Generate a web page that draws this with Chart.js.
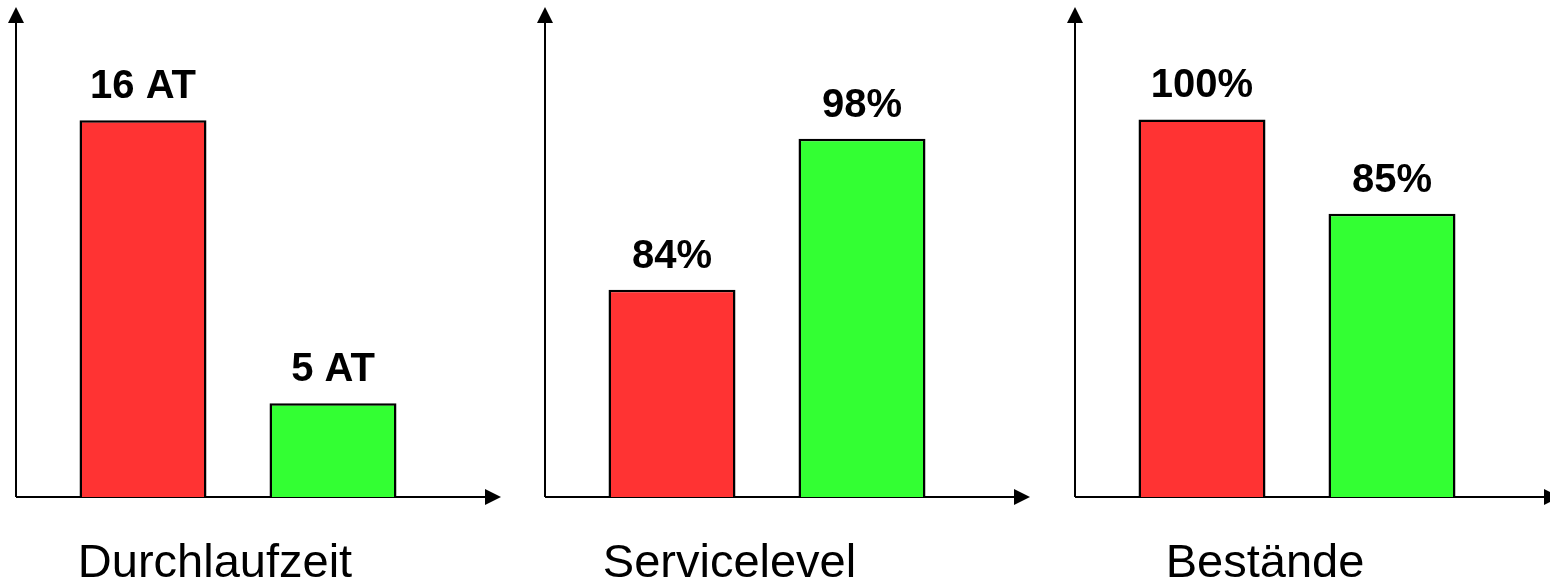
<!DOCTYPE html>
<html>
<head>
<meta charset="utf-8">
<script src="https://cdn.jsdelivr.net/npm/chart.js@4"></script>
<style>
  html, body { margin: 0; padding: 0; background: #fff; overflow: hidden; }
  body { width: 1550px; height: 582px; position: relative; }
  .panel { position: absolute; top: 0; width: 520px; height: 582px; }
</style>
</head>
<body>
<div class="panel" id="p0"><canvas id="c0"></canvas></div>
<div class="panel" id="p1"><canvas id="c1"></canvas></div>
<div class="panel" id="p2"><canvas id="c2"></canvas></div>

<script>
// ---- Daten ----
const titles = ['Durchlaufzeit', 'Servicelevel', 'Bestände'];
const categories = ['Ist', 'Soll'];
const durchlaufzeit = [16, 5];
const servicelevel = [84, 98];
const bestaende = [100, 85];
const units = [' AT', '%', '%'];
// Achsenbereich je Diagramm (Balken sind nicht ab Null skaliert)
const axisMin = [1.35, 64.8, 40];
const axisMax = [19.9, 109, 115.8];

const seriesList = [durchlaufzeit, servicelevel, bestaende];
const barColors = ['#ff3333', '#33ff33'];

// ---- Layout ----
const axisX = [15.5, 545, 1074.5];       // Lage der y-Achse im Bild
const titleCenter = [199, 184.5, 190];   // Titelmitte relativ zur y-Achse
const PANEL_PAD = 15;                    // Abstand Div-Rand -> y-Achse
const AXIS_GAP = 32;                     // y-Achse -> Beginn Kategorienbereich
const AXIS_LEN = 485;
const ARROW = 16;

// Achsen mit Pfeilen, Titel und Werte
const arrowAxes = {
  id: 'arrowAxes',
  beforeDatasetsDraw(chart) {
    const { ctx, chartArea } = chart;
    const x0 = chartArea.left - AXIS_GAP;
    const y0 = chartArea.bottom;
    const yTop = 7;
    const xEnd = x0 + AXIS_LEN;
    ctx.save();
    ctx.strokeStyle = '#000';
    ctx.fillStyle = '#000';
    ctx.lineWidth = 2;
    ctx.beginPath();
    ctx.moveTo(x0, y0);
    ctx.lineTo(x0, yTop + ARROW - 2);
    ctx.moveTo(x0, y0);
    ctx.lineTo(xEnd - ARROW + 2, y0);
    ctx.stroke();
    // Pfeilspitze oben
    ctx.beginPath();
    ctx.moveTo(x0, yTop);
    ctx.lineTo(x0 - 8, yTop + ARROW);
    ctx.lineTo(x0 + 8, yTop + ARROW);
    ctx.closePath();
    ctx.fill();
    // Pfeilspitze rechts
    ctx.beginPath();
    ctx.moveTo(xEnd, y0);
    ctx.lineTo(xEnd - ARROW, y0 - 8);
    ctx.lineTo(xEnd - ARROW, y0 + 8);
    ctx.closePath();
    ctx.fill();
    ctx.restore();
  },
  afterDatasetsDraw(chart, args, opts) {
    const { ctx, chartArea } = chart;
    const meta = chart.getDatasetMeta(0);
    const data = chart.data.datasets[0].data;
    ctx.save();
    ctx.fillStyle = '#000';
    ctx.textAlign = 'center';
    ctx.textBaseline = 'alphabetic';
    ctx.font = "bold 40px 'Liberation Sans', Arial, sans-serif";
    meta.data.forEach((bar, i) => {
      ctx.fillText(data[i] + opts.unit, bar.x, bar.y - 22);
    });
    ctx.font = "47px 'Liberation Sans', Arial, sans-serif";
    ctx.fillText(opts.title, chartArea.left - AXIS_GAP + opts.titleX, 577);
    ctx.restore();
  }
};

function createPanel(i) {
  const div = document.getElementById('p' + i);
  div.style.left = (axisX[i] - PANEL_PAD) + 'px';
  const ctx = document.getElementById('c' + i).getContext('2d');
  return new Chart(ctx, {
    type: 'bar',
    data: {
      labels: categories,
      datasets: [{
        data: seriesList[i],
        backgroundColor: barColors,
        borderColor: '#000',
        borderWidth: 2.5,
        categoryPercentage: 1,
        barPercentage: 127 / 190
      }]
    },
    options: {
      responsive: true,
      maintainAspectRatio: false,
      animation: false,
      layout: {
        padding: { left: PANEL_PAD + AXIS_GAP, right: 520 - PANEL_PAD - AXIS_GAP - 380, top: 20, bottom: 85 }
      },
      scales: {
        x: { display: false },
        y: { display: false, min: axisMin[i], max: axisMax[i] }
      },
      plugins: {
        legend: { display: false },
        tooltip: { enabled: false },
        arrowAxes: { unit: units[i], title: titles[i], titleX: titleCenter[i] }
      }
    },
    plugins: [arrowAxes]
  });
}

[0, 1, 2].forEach(createPanel);
</script>
</body>
</html>
